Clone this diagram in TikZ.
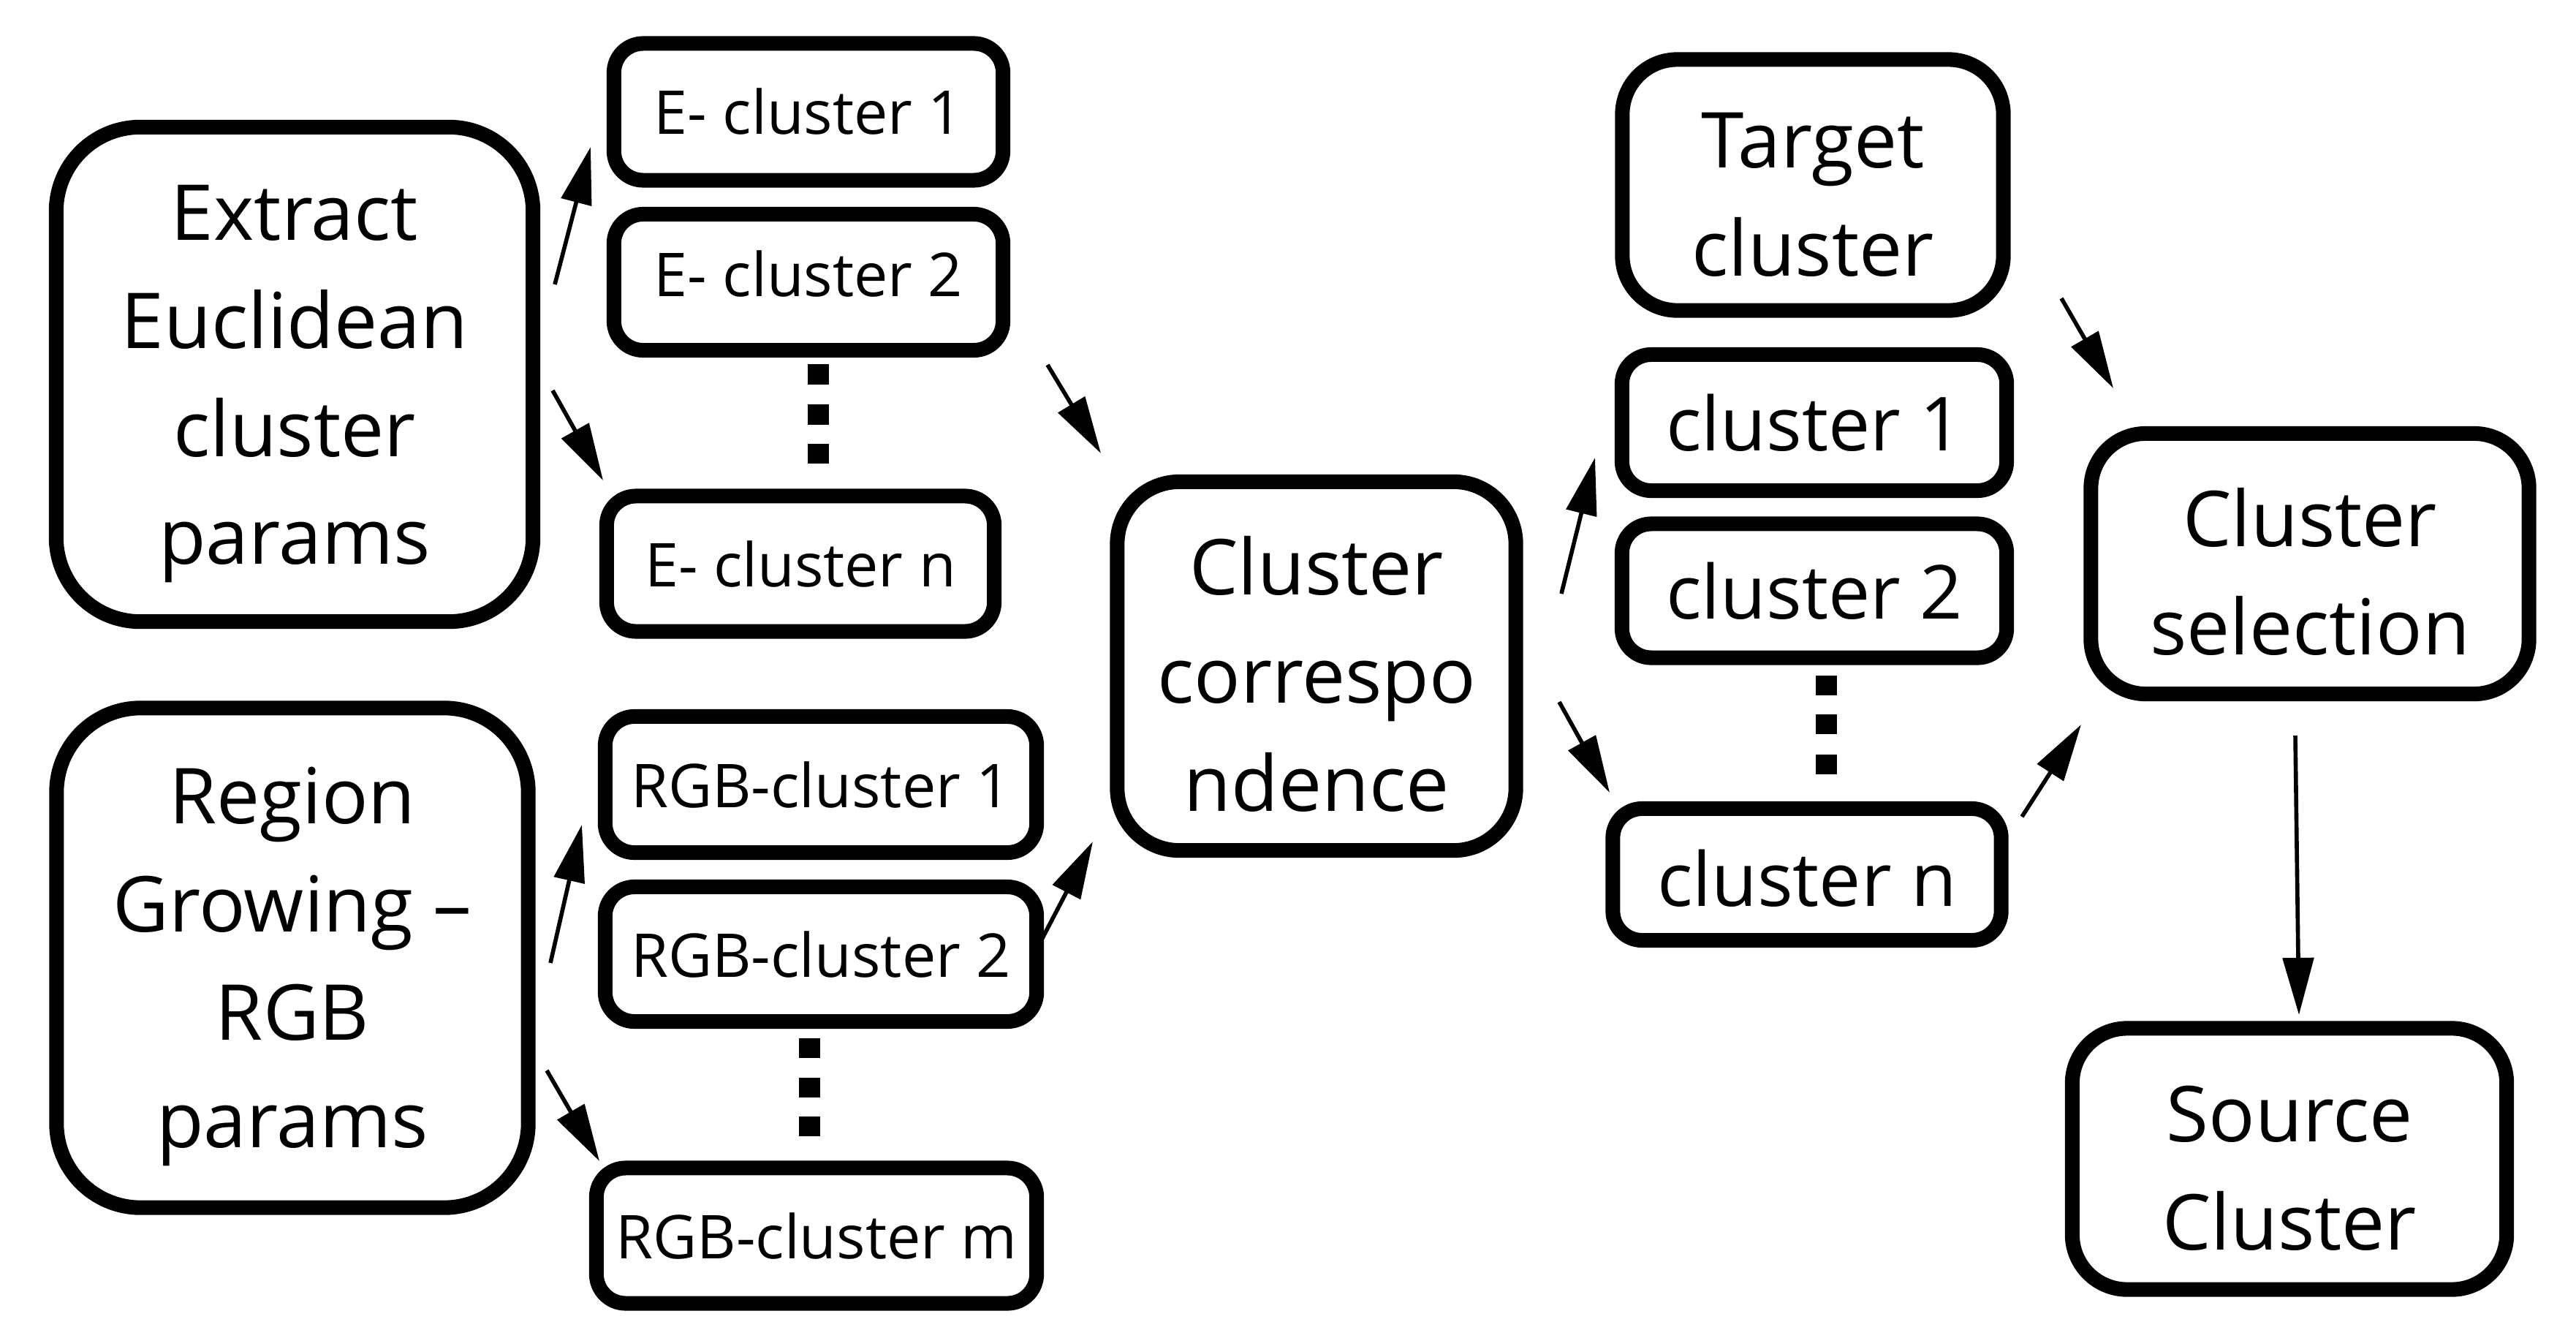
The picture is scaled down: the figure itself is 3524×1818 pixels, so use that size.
\documentclass[tikz,border=0pt]{standalone}
\usepackage{fontspec}
\setmainfont{Open Sans}
\usetikzlibrary{arrows.meta}
\newcommand\tup{\rule{0pt}{29pt}}
\begin{document}
\begin{tikzpicture}[x=0.01cm,y=-0.01cm,
  boxbase/.style={draw, line width=5.7pt, align=center, inner sep=0pt},
  bigbox/.style={boxbase, rounded corners=1.15cm, font=\fontsize{30}{42}\selectfont},
  midbox/.style={boxbase, rounded corners=0.75cm, font=\fontsize{30}{42}\selectfont},
  smallbox/.style={boxbase, rounded corners=0.4cm, font=\fontsize{23.5}{28}\selectfont},
  clbox/.style={boxbase, rounded corners=0.4cm, font=\fontsize{29}{34}\selectfont},
  dotsq/.style={fill, draw=none, minimum width=0.29cm, minimum height=0.27cm, inner sep=0pt},
  arr/.style={line width=1.6pt, -{Triangle[length=0.78cm, width=0.42cm]}}
]
\useasboundingbox (0,0) rectangle (3524,1818);
\fill[white] (0,0) rectangle (3524,1818);

% left column
\node[bigbox, minimum width=6.52cm, minimum height=6.76cm] (ext) at (403,512) {\tup Extract\\Euclidean\\cluster\\params};
\node[bigbox, minimum width=6.45cm, minimum height=6.83cm] (reg) at (400,1310) {\tup Region\\Growing --\\RGB\\params};

% E clusters
\node[smallbox, minimum width=5.32cm, minimum height=1.87cm] (e1) at (1106,153) {E- cluster 1};
\node[smallbox, minimum width=5.32cm, minimum height=1.86cm] (e2) at (1106,386) {E- cluster 2\rule[-7pt]{0pt}{0pt}};
\node[smallbox, minimum width=5.30cm, minimum height=1.85cm] (en) at (1095,771) {E- cluster n};
\node[dotsq] (ed1) at (1119,512) {};
\node[dotsq] (ed2) at (1119,567) {};
\node[dotsq] (ed3) at (1119,620) {};

% RGB clusters
\node[smallbox, minimum width=5.90cm, minimum height=1.86cm] (r1) at (1123,1073) {RGB-cluster 1};
\node[smallbox, minimum width=5.90cm, minimum height=1.84cm] (r2) at (1123,1305) {RGB-cluster 2};
\node[smallbox, minimum width=6.02cm, minimum height=1.85cm] (rm) at (1117,1690) {RGB-cluster m};
\node[dotsq] (rd1) at (1107,1433) {};
\node[dotsq] (rd2) at (1107,1487) {};
\node[dotsq] (rd3) at (1107,1540) {};

% correspondence
\node[bigbox, rounded corners=0.85cm, minimum width=5.45cm, minimum height=5.04cm] (corr) at (1801,911) {\tup Cluster\\correspo\\ndence};

% right clusters
\node[midbox, minimum width=5.21cm, minimum height=3.43cm] (tgt) at (2480,253) {\tup Target\\cluster};
\node[clbox, minimum width=5.26cm, minimum height=1.86cm] (c1) at (2482,578) {cluster 1};
\node[clbox, minimum width=5.26cm, minimum height=1.83cm] (c2) at (2482,808) {cluster 2};
\node[clbox, minimum width=5.31cm, minimum height=1.80cm] (cn) at (2472,1196) {\rule{0pt}{25pt}cluster n};
\node[dotsq] (cd1) at (2498,937) {};
\node[dotsq] (cd2) at (2498,990) {};
\node[dotsq] (cd3) at (2498,1045) {};

\node[midbox, minimum width=5.99cm, minimum height=3.56cm] (sel) at (3160,771) {\tup Cluster\\selection};
\node[midbox, minimum width=5.94cm, minimum height=3.57cm] (src) at (3132,1585) {\tup Source\\Cluster};

% arrow endpoints
\coordinate (a1s) at (759,389);  \coordinate (a1e) at (808,201);
\coordinate (a2s) at (756,534);  \coordinate (a2e) at (825,657);
\coordinate (a3s) at (1433,499); \coordinate (a3e) at (1506,620);
\coordinate (a4s) at (753,1317); \coordinate (a4e) at (796,1128);
\coordinate (a5s) at (748,1464); \coordinate (a5e) at (820,1588);
\coordinate (a6s) at (1424,1287);\coordinate (a6e) at (1495,1151);
\coordinate (a7s) at (2136,812); \coordinate (a7e) at (2182,626);
\coordinate (a8s) at (2133,960); \coordinate (a8e) at (2202,1084);
\coordinate (a9s) at (2820,408); \coordinate (a9e) at (2891,531);
\coordinate (a10s) at (2766,1117); \coordinate (a10e) at (2847,991);
\coordinate (a11s) at (3140,1006); \coordinate (a11e) at (3145,1388);

\draw[arr] (a1s) -- (a1e);
\draw[arr] (a2s) -- (a2e);
\draw[arr] (a3s) -- (a3e);
\draw[arr] (a4s) -- (a4e);
\draw[arr] (a5s) -- (a5e);
\draw[arr] (a6s) -- (a6e);
\draw[arr] (a7s) -- (a7e);
\draw[arr] (a8s) -- (a8e);
\draw[arr] (a9s) -- (a9e);
\draw[arr] (a10s) -- (a10e);
\draw[arr] (a11s) -- (a11e);
\end{tikzpicture}
\end{document}
